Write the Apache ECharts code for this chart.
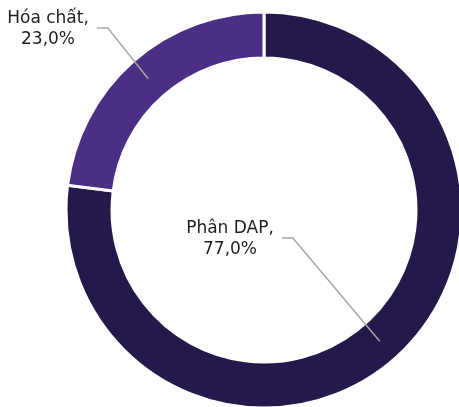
<!DOCTYPE html>
<html>
<head>
<meta charset="utf-8">
<script src="https://cdn.jsdelivr.net/npm/echarts@6/dist/echarts.min.js"></script>
<style>
  html, body { margin: 0; padding: 0; background: #fff; }
  #chart { width: 459px; height: 407px; }
</style>
</head>
<body>
<div id="chart"></div>
<script>
// co cau doanh thu
var names = ['Phân DAP', 'Hóa chất'];
var values = [77.0, 23.0];
var colors = ['#25194b', '#4a2f84'];

// vi tri nhan (tam chu)
var labelPos = [[230, 239], [48, 29]];

var cx = 264, cy = 210, rIn = 152, rOut = 198;

var total = values.reduce(function (a, b) { return a + b; }, 0);
// diem giua cung cua moi lat, tinh tu du lieu
function midPoint(idx) {
  var before = 0;
  for (var i = 0; i < idx; i++) before += values[i];
  var frac = (before + values[idx] / 2) / total;
  var ang = frac * Math.PI * 2; // theo chieu kim dong ho tu dinh
  var r = (rIn + rOut) / 2;
  return [cx + r * Math.sin(ang), cy - r * Math.cos(ang)];
}

var chart = echarts.init(document.getElementById('chart'), null, { renderer: 'canvas' });

var pieData = names.map(function (n, i) {
  return { name: n, value: values[i], itemStyle: { color: colors[i] } };
});

chart.setOption({
  animation: false,
  series: [{
    // vong tron mau
    type: 'pie',
    z: 2,
    center: [cx, cy],
    radius: [rIn, rOut],
    startAngle: 90,
    clockwise: true,
    silent: true,
    itemStyle: { borderColor: '#fff', borderWidth: 3 },
    label: { show: false },
    labelLine: { show: false },
    data: pieData
  }, {
    // lop nhan + duong dan, nam tren vong
    type: 'pie',
    z: 3,
    center: [cx, cy],
    radius: [rIn, rOut],
    startAngle: 90,
    clockwise: true,
    silent: true,
    avoidLabelOverlap: false,
    itemStyle: { color: 'transparent', borderWidth: 0 },
    label: {
      show: true,
      position: 'outside',
      overflow: 'none',
      bleedMargin: -500,
      fontFamily: 'DejaVu Sans',
      fontSize: 17,
      lineHeight: 21,
      color: '#1e1e1e',
      align: 'center',
      formatter: function (p) {
        return p.name + ',\n' + p.value.toFixed(1).replace('.', ',') + '%';
      }
    },
    labelLine: {
      show: true,
      length: 5,
      length2: 5,
      lineStyle: { color: '#a6a6a6', width: 1.5 }
    },
    labelLayout: function (params) {
      var i = params.dataIndex;
      var lp = labelPos[i];
      var w = params.labelRect.width;
      var y1 = lp[1] - 1;
      var ex = lp[0] + w / 2 + 8;
      return {
        x: lp[0],
        y: lp[1],
        align: 'center',
        verticalAlign: 'middle',
        labelLinePoints: [midPoint(i), [ex + 11, y1], [ex, y1]]
      };
    },
    data: names.map(function (n, i) {
      return { name: n, value: values[i] };
    })
  }]
});
</script>
</body>
</html>
